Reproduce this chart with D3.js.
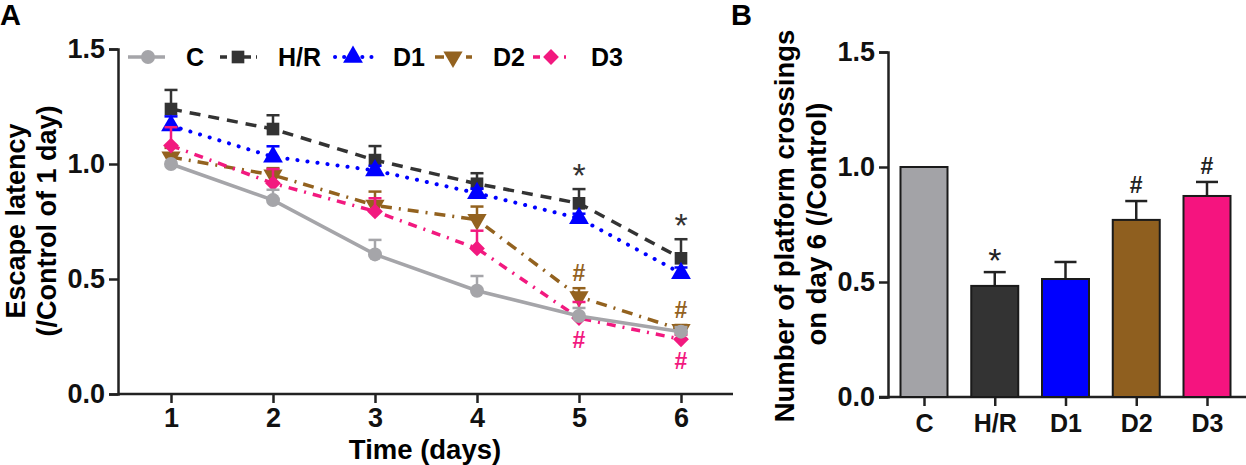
<!DOCTYPE html>
<html>
<head>
<meta charset="utf-8">
<script src="https://cdn.jsdelivr.net/npm/d3@7"></script>
<style>
  body { margin: 0; background: #fff; }
  svg { display: block; font-family: "Liberation Sans", Arial, sans-serif; font-weight: bold; }
</style>
</head>
<body>
<div id="chart"></div>
<script>
// ---- data ----
var days = [1, 2, 3, 4, 5, 6];
var groups = ["C", "H/R", "D1", "D2", "D3"];

// escape latency, mean and upper error (SEM)
var latC   = [1.00, 0.843, 0.607, 0.449, 0.339, 0.271];
var errC   = [0.00, 0.045, 0.063, 0.064, 0.035, 0.02];
var latHR  = [1.239, 1.152, 1.017, 0.914, 0.829, 0.59];
var errHR  = [0.083, 0.06, 0.061, 0.046, 0.062, 0.083];
var latD1  = [1.167, 1.031, 0.972, 0.873, 0.764, 0.525];
var errD1  = [0.04, 0.046, 0.02, 0.02, 0.02, 0.025];
var latD2  = [1.03, 0.952, 0.82, 0.758, 0.423, 0.28];
var errD2  = [0.04, 0.03, 0.06, 0.057, 0.037, 0.02];
var latD3  = [1.08, 0.916, 0.794, 0.633, 0.33, 0.238];
var errD3  = [0.08, 0.062, 0.057, 0.077, 0.07, 0.02];

// platform crossings on day 6
var crossings = [1.00, 0.483, 0.513, 0.77, 0.874];
var crossErr  = [0.00, 0.06, 0.074, 0.082, 0.061];

var yTicks = [0.0, 0.5, 1.0, 1.5];

// significance marks: panel A and panel B
var marksA = [
  { group: "H/R", day: 5, text: "*", side: "above" },
  { group: "H/R", day: 6, text: "*", side: "above" },
  { group: "D2", day: 5, text: "#", side: "above" },
  { group: "D2", day: 6, text: "#", side: "above" },
  { group: "D3", day: 5, text: "#", side: "below" },
  { group: "D3", day: 6, text: "#", side: "below" }
];
var marksB = [
  { group: "H/R", text: "*" },
  { group: "D2", text: "#" },
  { group: "D3", text: "#" }
];

// ---- styles ----
var color = {
  "C": "#a5a5a9", "H/R": "#333333", "D1": "#0000ff", "D2": "#93621f", "D3": "#f2197f"
};
var barFill = {
  "C": "#a3a3a7", "H/R": "#333333", "D1": "#0000ff", "D2": "#8f5f1f", "D3": "#f5147f"
};
var dash = {
  "C": null, "H/R": "11,8", "D1": "0.1,10", "D2": "11,7,2,7", "D3": "9,7,2,7"
};
var cap = {
  "C": "butt", "H/R": "butt", "D1": "round", "D2": "butt", "D3": "butt"
};

var series = [
  { name: "H/R", v: latHR, e: errHR },
  { name: "D1",  v: latD1, e: errD1 },
  { name: "D2",  v: latD2, e: errD2 },
  { name: "D3",  v: latD3, e: errD3 },
  { name: "C",   v: latC,  e: errC }
];

var TICK_FS = 27, TITLE_FS = 27;

var W = 1246, H = 465;
var svg = d3.select("#chart").append("svg")
    .attr("width", W)
    .attr("height", H);

function marker(g, name, cx, cy) {
  var m;
  if (name === "C") {
    m = g.append("circle").attr("r", 7);
  } else if (name === "H/R") {
    m = g.append("path").attr("d", d3.symbol(d3.symbolSquare, 160)());
  } else if (name === "D1") {
    m = g.append("path").attr("d", d3.symbol(d3.symbolTriangle, 170)());
  } else if (name === "D2") {
    m = g.append("path").attr("d", d3.symbol(d3.symbolTriangle, 160)())
        .attr("data-rot", 180);
  } else {
    m = g.append("path").attr("d", d3.symbol(d3.symbolSquare, 125)())
        .attr("data-rot", 45);
  }
  var rot = m.attr("data-rot") || 0;
  m.attr("transform", "translate(" + cx + "," + cy + ") rotate(" + rot + ")")
    .attr("fill", color[name]);
  return m;
}

function styleAxis(g, fs) {
  g.select(".domain").attr("stroke", "#222").attr("stroke-width", 2.5);
  g.selectAll(".tick line").attr("stroke", "#222").attr("stroke-width", 2.5);
  g.selectAll("text").attr("font-size", fs).attr("fill", "#111")
    .attr("font-family", "Liberation Sans, Arial, sans-serif").attr("font-weight", "bold");
}

// =============== panel A ===============
var xA = d3.scaleLinear().domain([1, 6]).range([171, 681]);
var yA = d3.scaleLinear().domain([0, 1.5]).range([394, 49]);
var gA = svg.append("g");

// axes
gA.append("g")
    .attr("transform", "translate(118,0)")
    .call(d3.axisLeft(yA).tickValues(yTicks).tickFormat(d3.format(".1f")).tickSize(9).tickPadding(4))
    .call(function(g) { styleAxis(g, TICK_FS); });

gA.append("line")
    .attr("x1", 118).attr("x2", 733)
    .attr("y1", yA(0)).attr("y2", yA(0))
    .attr("stroke", "#222").attr("stroke-width", 2.5);

gA.append("g")
    .attr("transform", "translate(0," + yA(0) + ")")
    .call(d3.axisBottom(xA).tickValues(days).tickFormat(d3.format("d")).tickSize(9).tickPadding(5))
    .call(function(g) { g.select(".domain").remove(); styleAxis(g, TICK_FS); });

gA.append("text")
    .attr("x", 425).attr("y", 459)
    .attr("text-anchor", "middle")
    .attr("font-size", 27.5)
    .text("Time (days)");

gA.append("text")
    .attr("transform", "translate(25,221) rotate(-90)")
    .attr("text-anchor", "middle")
    .attr("font-size", TITLE_FS)
    .text("Escape latency");
gA.append("text")
    .attr("transform", "translate(56,221) rotate(-90)")
    .attr("text-anchor", "middle")
    .attr("font-size", TITLE_FS)
    .text("(/Control of 1 day)");

svg.append("text").attr("x", 0).attr("y", 25).attr("font-size", 29).text("A");

// lines, error bars, markers
var line = d3.line()
    .x(function(d, i) { return xA(days[i]); })
    .y(function(d) { return yA(d); });

series.forEach(function(s) {
  var g = gA.append("g");
  g.append("path")
      .datum(s.v)
      .attr("d", line)
      .attr("fill", "none")
      .attr("stroke", color[s.name])
      .attr("stroke-width", s.name === "D1" ? 4 : 3.5)
      .attr("stroke-linecap", cap[s.name])
      .attr("stroke-dasharray", dash[s.name]);

  s.v.forEach(function(v, i) {
    if (s.e[i] <= 0) return;
    var cx = xA(days[i]);
    g.append("line")
        .attr("x1", cx).attr("x2", cx)
        .attr("y1", yA(v)).attr("y2", yA(v + s.e[i]))
        .attr("stroke", color[s.name]).attr("stroke-width", 2.5);
    g.append("line")
        .attr("x1", cx - 6.5).attr("x2", cx + 6.5)
        .attr("y1", yA(v + s.e[i])).attr("y2", yA(v + s.e[i]))
        .attr("stroke", color[s.name]).attr("stroke-width", 2.5);
  });

  s.v.forEach(function(v, i) {
    marker(g, s.name, xA(days[i]), yA(v));
  });
});

marksA.forEach(function(m) {
  var s = series.filter(function(d) { return d.name === m.group; })[0];
  var i = days.indexOf(m.day);
  var top = yA(s.v[i] + s.e[i]);
  var yy = m.side === "above" ? top - (m.text === "*" ? 2 : 7) : yA(s.v[i]) + 30;
  gA.append("text")
      .attr("x", xA(m.day)).attr("y", yy)
      .attr("text-anchor", "middle")
      .attr("font-size", m.text === "*" ? 34 : 23)
      .attr("font-weight", m.text === "*" ? "normal" : "bold")
      .attr("fill", color[m.group])
      .text(m.text);
});

// legend
var legendX = [128, 220, 335, 435, 533];
var legend = gA.append("g");
groups.forEach(function(name, i) {
  var lx = legendX[i], ly = 57;
  var it = legend.append("g");
  it.append("line")
      .attr("x1", lx).attr("x2", lx + 37)
      .attr("y1", ly).attr("y2", ly)
      .attr("stroke", color[name])
      .attr("stroke-width", name === "D1" ? 4 : 3.5)
      .attr("stroke-linecap", cap[name])
      .attr("stroke-dasharray", name === "H/R" ? "7,5" : name === "D1" ? "0.1,9" : name === "D2" ? "9,22" : name === "D3" ? "7,24,2,10" : null);
  marker(it, name, lx + (name === "C" ? 20 : 18), ly);
  it.append("text")
      .attr("x", lx + 58).attr("y", ly + 9)
      .attr("font-size", 25)
      .text(name);
});

// =============== panel B ===============
var xB = d3.scalePoint().domain(groups).range([924, 1207]);
var yB = d3.scaleLinear().domain([0, 1.5]).range([397, 52]);
var barW = 47;
var gB = svg.append("g");

svg.append("text").attr("x", 731).attr("y", 25).attr("font-size", 29).text("B");

gB.append("g")
    .attr("transform", "translate(888,0)")
    .call(d3.axisLeft(yB).tickValues(yTicks).tickFormat(d3.format(".1f")).tickSize(9).tickPadding(4))
    .call(function(g) { styleAxis(g, TICK_FS); });

gB.append("line")
    .attr("x1", 879).attr("x2", 1246)
    .attr("y1", yB(0)).attr("y2", yB(0))
    .attr("stroke", "#222").attr("stroke-width", 2.5);

gB.append("g")
    .attr("transform", "translate(0," + yB(0) + ")")
    .call(d3.axisBottom(xB).tickSize(9).tickPadding(8))
    .call(function(g) { g.select(".domain").remove(); styleAxis(g, 25); });

gB.append("text")
    .attr("transform", "translate(794,226) rotate(-90)")
    .attr("text-anchor", "middle")
    .attr("font-size", 27.5)
    .text("Number of platform crossings");
gB.append("text")
    .attr("transform", "translate(826,224) rotate(-90)")
    .attr("text-anchor", "middle")
    .attr("font-size", 27.5)
    .text("on day 6 (/Control)");

groups.forEach(function(name, i) {
  var cx = xB(name);
  if (crossErr[i] > 0) {
    gB.append("line")
        .attr("x1", cx).attr("x2", cx)
        .attr("y1", yB(crossings[i])).attr("y2", yB(crossings[i] + crossErr[i]))
        .attr("stroke", "#222").attr("stroke-width", 2.5);
    gB.append("line")
        .attr("x1", cx - 11).attr("x2", cx + 11)
        .attr("y1", yB(crossings[i] + crossErr[i])).attr("y2", yB(crossings[i] + crossErr[i]))
        .attr("stroke", "#222").attr("stroke-width", 2.5);
  }
  gB.append("rect")
      .attr("x", cx - barW / 2)
      .attr("y", yB(crossings[i]))
      .attr("width", barW)
      .attr("height", yB(0) - yB(crossings[i]))
      .attr("fill", barFill[name])
      .attr("stroke", "#1a1a1a")
      .attr("stroke-width", 2);
});

marksB.forEach(function(m) {
  var i = groups.indexOf(m.group);
  var top = yB(crossings[i] + crossErr[i]);
  gB.append("text")
      .attr("x", xB(m.group)).attr("y", top - (m.text === "*" ? 0 : 8))
      .attr("text-anchor", "middle")
      .attr("font-size", m.text === "*" ? 34 : 23)
      .attr("font-weight", m.text === "*" ? "normal" : "bold")
      .attr("fill", "#222")
      .text(m.text);
});
</script>
</body>
</html>
